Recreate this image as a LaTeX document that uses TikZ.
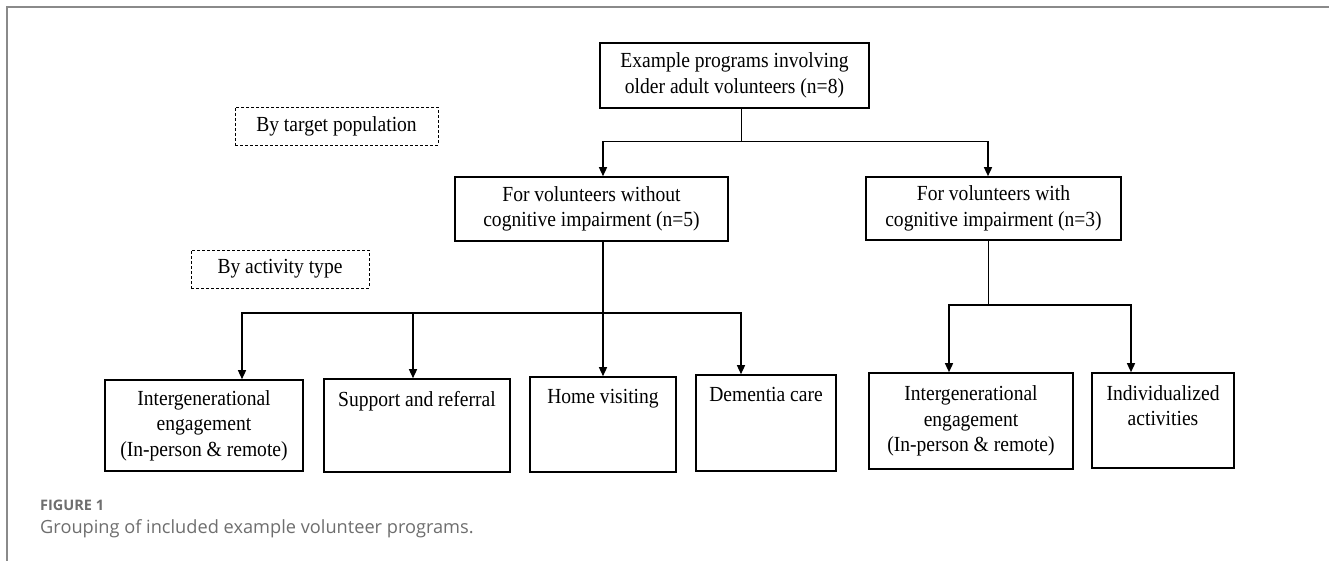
\documentclass[tikz,border=0pt]{standalone}
\usepackage{fontspec}
\setmainfont{Liberation Serif}[FakeStretch=0.91]
\newfontfamily\capfont{Open Sans}
\usetikzlibrary{arrows.meta}
\definecolor{framegray}{HTML}{8A8A8A}
\definecolor{capgray}{HTML}{6E6E6E}
\begin{document}
\begin{tikzpicture}[x=1pt,y=-1pt,font=\fontsize{21.5}{25.5}\selectfont]
\tikzstyle{box}=[draw,line width=1.6pt,align=center,inner sep=0pt]
\tikzstyle{tag}=[draw,line width=0.7pt,dash pattern=on 3pt off 2pt,inner sep=0pt]
\tikzstyle{link}=[line width=1.4pt]
\tikzstyle{arr}=[link,-{Triangle[length=9pt,width=8pt]}]
\tikzstyle{toplabel}=[anchor=north,align=center,inner sep=0pt,yshift=-13pt]
\useasboundingbox (0,0) rectangle (1329,561);
\draw[framegray,line width=1.5pt] (1329,7) -- (7,7) -- (7,561);
\node[box,minimum width=269pt,minimum height=65pt] at (734.5,75.5) (top) {Example programs involving\\older adult volunteers (n=8)};
\node[tag,minimum width=203pt,minimum height=38pt] at (336.5,126) (bytarget) {By target population};
\node[box,minimum width=273pt,minimum height=64pt] at (591.5,209) (without) {For volunteers without\\cognitive impairment (n=5)};
\node[box,minimum width=255pt,minimum height=63pt] at (993.5,208.5) (with) {For volunteers with\\cognitive impairment (n=3)};
\node[tag,minimum width=178pt,minimum height=38pt] at (280,269) (byactivity) {By activity type};
\node[box,minimum width=198pt,minimum height=91pt] at (204,425.5) (ig1) {Intergenerational\\engagement\\(In-person \& remote)};
\node[box,minimum width=185.5pt,minimum height=93pt,label={[toplabel]north:Support and referral}] at (417,425.5) (sr) {};
\node[box,minimum width=146pt,minimum height=95pt,label={[toplabel]north:Home visiting}] at (603,424.5) (hv) {};
\node[box,minimum width=140.5pt,minimum height=96pt,label={[toplabel]north:Dementia care}] at (766,423) (dc) {};
\node[box,minimum width=203.5pt,minimum height=96pt] at (971,421) (ig2) {Intergenerational\\engagement\\(In-person \& remote)};
\node[box,minimum width=141.5pt,minimum height=95pt,label={[toplabel]north:Individualized\\activities}] at (1163,420.5) (ind) {};
\draw[link] ([xshift=7pt]top.south) -- ++(0,33) coordinate (b1);
\draw[arr] (b1) -| ([xshift=11.5pt]without.north);
\draw[arr] (b1) -| ([xshift=-5.5pt]with.north);
\draw[link] ([xshift=11.5pt]without.south) -- ++(0,71) coordinate (b2);
\draw[arr] (b2) -| ([xshift=38pt]ig1.north);
\draw[arr] (b2) -| ([xshift=-4pt]sr.north);
\draw[arr] (b2) -- (hv.north);
\draw[arr] (b2) -| ([xshift=-25pt]dc.north);
\draw[link] ([xshift=-5pt]with.south) -- ++(0,64) coordinate (b3);
\draw[arr] (b3) -| ([xshift=-22pt]ig2.north);
\draw[arr] (b3) -| ([xshift=-32pt]ind.north);
\node[anchor=base west,inner sep=0pt,text=capgray,font=\capfont\bfseries\fontsize{14.5}{16}\selectfont] at (40,510) (fignum) {FIGURE 1};
\node[anchor=base west,inner sep=0pt,text=capgray,font=\capfont\fontsize{18.2}{20}\selectfont] at (40,533) (caption) {Grouping of included example volunteer programs.};
\end{tikzpicture}
\end{document}
